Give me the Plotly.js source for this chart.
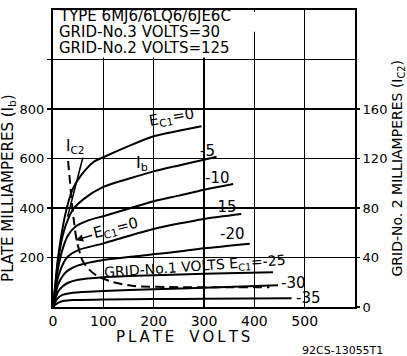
<!DOCTYPE html>
<html>
<head>
<meta charset="utf-8">
<script src="https://cdn.plot.ly/plotly-3.0.1.min.js"></script>
<style>
  html, body { margin: 0; padding: 0; background: #fff; }
  #chart { width: 407px; height: 356px; }
</style>
</head>
<body>
<div id="chart"></div>
<script>
// ---- data (plate volts vs plate milliamperes, grid-No.1 volts as parameter) ----
const xTickVals = [0, 100, 200, 300, 400, 500, 600];
const xTickText = ['0', '100', '200', '300', '400', '500', ''];
const yTickVals = [200, 400, 600, 800, 1000];
const yTickText = ['200', '400', '600', '800', ''];
const y2TickVals = [0, 40, 80, 120, 160];
const y2TickText = ['0', '40', '80', '120', '160'];

const ec1Labels = ['0', '-5', '-10', '-15', '-20', '-25', '-30', '-35'];

const ec1_0_v   = [0, 5, 10, 20, 30, 40, 55, 80, 100, 150, 200, 250, 295];
const ec1_0_ib  = [0, 100, 200, 330, 420, 480, 530, 585, 605, 650, 690, 712, 730];
const ec1_5_v   = [0, 5, 10, 20, 30, 40, 60, 100, 150, 200, 250, 300, 325];
const ec1_5_ib  = [0, 95, 185, 295, 355, 395, 435, 485, 518, 548, 572, 595, 607];
const ec1_10_v  = [0, 5, 10, 20, 30, 45, 70, 100, 150, 200, 250, 300, 358];
const ec1_10_ib = [0, 80, 155, 240, 290, 325, 350, 367, 397, 427, 450, 474, 497];
const ec1_15_v  = [0, 5, 10, 20, 30, 50, 100, 150, 200, 250, 300, 374];
const ec1_15_ib = [0, 65, 120, 175, 205, 230, 257, 287, 315, 337, 356, 376];
const ec1_20_v  = [0, 5, 10, 20, 30, 50, 100, 150, 200, 250, 300, 391];
const ec1_20_ib = [0, 50, 90, 128, 148, 168, 190, 202, 213, 224, 237, 256];
const ec1_25_v  = [0, 5, 10, 20, 30, 50, 100, 200, 300, 437];
const ec1_25_ib = [0, 35, 62, 85, 98, 110, 120, 128, 134, 140];
const ec1_30_v  = [0, 5, 10, 20, 40, 100, 200, 300, 447];
const ec1_30_ib = [0, 22, 37, 50, 58, 65, 72, 78, 88];
const ec1_35_v  = [0, 5, 10, 20, 40, 100, 200, 300, 474];
const ec1_35_ib = [0, 10, 17, 24, 28, 30, 32, 33, 35];

// grid-No.2 current (right axis), Ec1 = 0
const ic2_v  = [30, 34, 38, 42, 47, 58, 70, 88, 120, 160, 250, 350, 430];
const ic2_ma = [118, 100, 82, 68, 54, 38, 31, 25, 20, 17, 16, 16, 16];

// ---- traces ----
const plateSets = [
  [ec1_0_v, ec1_0_ib], [ec1_5_v, ec1_5_ib], [ec1_10_v, ec1_10_ib], [ec1_15_v, ec1_15_ib],
  [ec1_20_v, ec1_20_ib], [ec1_25_v, ec1_25_ib], [ec1_30_v, ec1_30_ib], [ec1_35_v, ec1_35_ib]
];
const traces = plateSets.map((s, i) => ({
  type: 'scatter', mode: 'lines', x: s[0], y: s[1],
  name: 'Ec1=' + ec1Labels[i],
  line: { color: '#000', width: 2, shape: 'spline', smoothing: 0.8 },
  xaxis: 'x', yaxis: 'y', showlegend: false
}));
traces.push({
  type: 'scatter', mode: 'lines', x: ic2_v, y: ic2_ma, name: 'Ic2 Ec1=0',
  line: { color: '#000', width: 2, dash: '9px,5px', shape: 'spline', smoothing: 0.6 },
  xaxis: 'x', yaxis: 'y2', showlegend: false
});

const F = 'DejaVu Sans, Liberation Sans, Arial, sans-serif';
const lbl = (x, y, text, size, angle) => ({
  x: x, y: y, xref: 'x', yref: 'y', text: text, showarrow: false,
  xanchor: 'center', yanchor: 'middle',
  textangle: angle || 0, font: { family: F, size: size || 14, color: '#000' }
});
const boxLine = (y, text) => ({
  x: 10, y: y, xref: 'x', yref: 'y', xanchor: 'left', yanchor: 'middle', text: text,
  showarrow: false, borderpad: 0, font: { family: F, size: 15, color: '#000' }
});
const paperText = (x, y, text, size, angle) => ({
  x: x, y: y, xref: 'paper', yref: 'paper', xanchor: 'center', yanchor: 'middle',
  text: text, textangle: angle || 0, showarrow: false,
  font: { family: F, size: size, color: '#000' }
});

const annotations = [
  // text box
  boxLine(1175, 'TYPE 6MJ6/6LQ6/6JE6C'),
  boxLine(1110, 'GRID-No.3 VOLTS=30'),
  boxLine(1045, 'GRID-No.2 VOLTS=125'),
  // curve labels
  lbl(236, 765, 'E<sub>C1</sub>=0', 15, -10),
  lbl(306, 632, '-5', 15),
  lbl(326, 522, '-10', 15),
  lbl(340, 405, '-15', 15),
  lbl(356, 294, '-20', 15),
  lbl(282, 162, 'GRID-No.1 VOLTS E<sub>C1</sub>=-25', 14, -4),
  lbl(478, 98, '-30', 15),
  lbl(508, 35, '-35', 15),
  lbl(176, 578, 'I<sub>b</sub>', 16),
  lbl(44, 650, 'I<sub>C2</sub>', 15),
  // Ic2 Ec1=0 label with arrow
  { x: 45, y: 270, xref: 'x', yref: 'y', ax: 40, ay: -12, text: 'E<sub>C1</sub>=0', textangle: -14,
    showarrow: true, arrowhead: 2, arrowsize: 1, arrowwidth: 1.5, arrowcolor: '#000', standoff: 0,
    font: { family: F, size: 15, color: '#000' } },
  // Ic2 leader
  { x: 29, y: 365, xref: 'x', yref: 'y', ax: 16, ay: -62, text: ' ', showarrow: true, arrowhead: 0,
    arrowwidth: 1.6, arrowcolor: '#000', standoff: 0, font: { size: 2 } },
  // axis titles
  paperText(-0.150, 0.40, 'PLATE MILLIAMPERES (I<sub>b</sub>)', 15, -90),
  paperText(1.143, 0.467, 'GRID-No. 2 MILLIAMPERES (I<sub>C2</sub>)', 14, -90),
  paperText(0.43, -0.10, 'P\u2009L\u2009A\u2009T\u2009E\u2003V\u2009O\u2009L\u2009T\u2009S', 15),
  paperText(0.957, -0.146, '92CS-13055T1', 11)
];

const layout = {
  width: 407, height: 356,
  margin: { l: 53, r: 52, t: 10, b: 49 },
  paper_bgcolor: '#fff', plot_bgcolor: '#fff',
  showlegend: false,
  xaxis: {
    range: [0, 600], tickvals: xTickVals, ticktext: xTickText,
    showgrid: true, gridcolor: '#000', gridwidth: 1.5, zeroline: false,
    showline: true, mirror: true, linecolor: '#000', linewidth: 2,
    ticks: '', tickfont: { family: F, size: 14, color: '#000' }
  },
  yaxis: {
    range: [0, 1200], tickvals: yTickVals, ticktext: yTickText,
    showgrid: true, gridcolor: '#000', gridwidth: 1.5, zeroline: false,
    showline: true, mirror: true, linecolor: '#000', linewidth: 2,
    ticks: 'outside', ticklen: 4, tickcolor: '#000', tickwidth: 1.3,
    tickfont: { family: F, size: 13, color: '#000' }
  },
  yaxis2: {
    range: [0, 240], tickvals: y2TickVals, ticktext: y2TickText,
    overlaying: 'y', side: 'right', showgrid: false, zeroline: false,
    ticks: 'outside', ticklen: 4, tickcolor: '#000', tickwidth: 1.3,
    tickfont: { family: F, size: 13, color: '#000' }
  },
  // white panel behind the type / grid-voltage text box (hides the grid there)
  shapes: [
    { type: 'rect', xref: 'x', yref: 'y', x0: 3, x1: 395, y0: 1008, y1: 1193, fillcolor: '#fff', line: { width: 0 }, layer: 'above' },
    { type: 'rect', xref: 'x', yref: 'y', x0: 395, x1: 405, y0: 1112, y1: 1193, fillcolor: '#fff', line: { width: 0 }, layer: 'above' }
  ],
  annotations: annotations
};

Plotly.newPlot('chart', traces, layout, { displayModeBar: false, staticPlot: true });
</script>
</body>
</html>
